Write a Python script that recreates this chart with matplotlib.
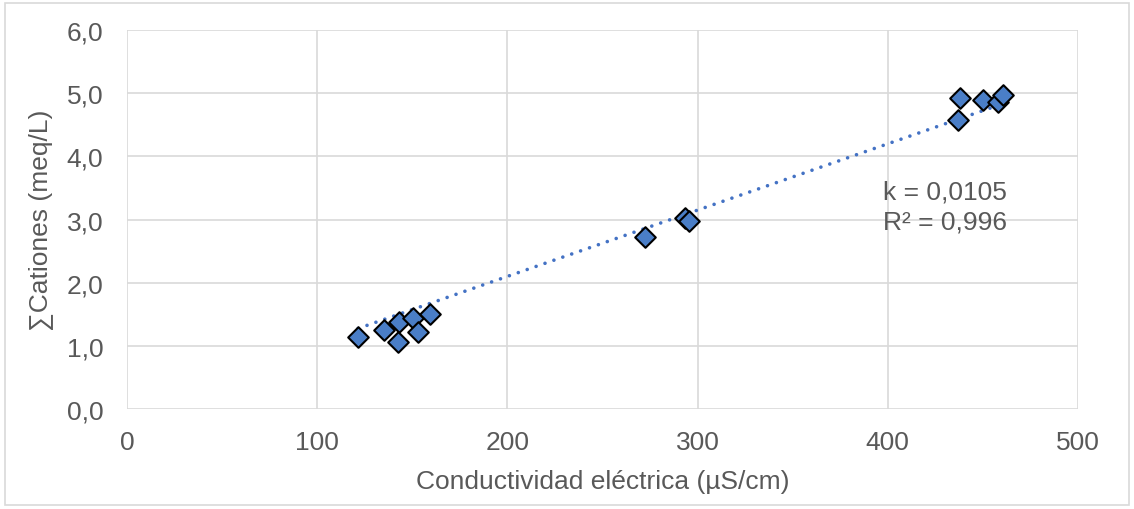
import matplotlib
matplotlib.use("Agg")
import matplotlib.pyplot as plt
import numpy as np
from matplotlib.patches import Rectangle

conductividad = [121.5, 135.1, 143.0, 142.5, 150.4, 153.0, 159.3,
                 272.3, 293.4, 295.5,
                 438.0, 436.9, 450.0, 458.0, 460.6]
cationes = [1.14, 1.25, 1.38, 1.06, 1.44, 1.22, 1.50,
            2.72, 3.02, 2.97,
            4.92, 4.57, 4.89, 4.86, 4.97]
k_pendiente = 0.0105
r2 = 0.996
x_ticks = [0, 100, 200, 300, 400, 500]
y_ticks = [0, 1, 2, 3, 4, 5, 6]

plt.rcParams['font.family'] = ['Liberation Sans', 'DejaVu Sans']
grey_text = '#595959'
fs = 19

fig = plt.figure(figsize=(11.34, 5.10), dpi=100)
ax = fig.add_axes([0.112, 0.196, 0.9506 - 0.112, 0.939 - 0.196])

x = np.array(conductividad)
y = np.array(cationes)

xl = np.linspace(x.min(), x.max(), 50)
ax.plot(xl, k_pendiente * xl, linestyle=(0, (0.01, 2.6)), color='#4472C4',
        linewidth=2.6, zorder=2, dash_capstyle='round')
ax.scatter(x, y, marker='D', s=110, facecolor='#4A7EC7', edgecolor='black',
           linewidth=1.5, zorder=3)

ax.set_xlim(0, 500)
ax.set_ylim(0, 6)
ax.set_xticks(x_ticks)
ax.set_yticks(y_ticks)
ax.set_xticklabels([str(t) for t in x_ticks])
ax.set_yticklabels([f"{t:.1f}".replace('.', ',') for t in y_ticks])
ax.grid(True, color='#D9D9D9', linewidth=1.2, zorder=0)
ax.set_axisbelow(True)
for s in ax.spines.values():
    s.set_visible(False)
ax.tick_params(length=0, labelsize=fs, labelcolor=grey_text)
ax.tick_params(axis='y', pad=17)
ax.tick_params(axis='x', pad=15)

ax.set_xlabel('Conductividad eléctrica (µS/cm)', fontsize=fs, color=grey_text, labelpad=11)
ax.set_ylabel('∑Cationes (meq/L)', fontsize=fs, color=grey_text, labelpad=10)

ax.text(397.5, 3.44, 'k = 0,0105', fontsize=fs, color=grey_text, va='center', ha='left')
ax.text(397.5, 2.97, f'R² = {r2}'.replace('.', ','), fontsize=fs, color=grey_text, va='center', ha='left')

fig.patches.append(Rectangle((0.004, 0.008), 0.992, 0.984, transform=fig.transFigure,
                             fill=False, edgecolor='#D9D9D9', linewidth=1.2))

fig.savefig('out.png', dpi=100)
